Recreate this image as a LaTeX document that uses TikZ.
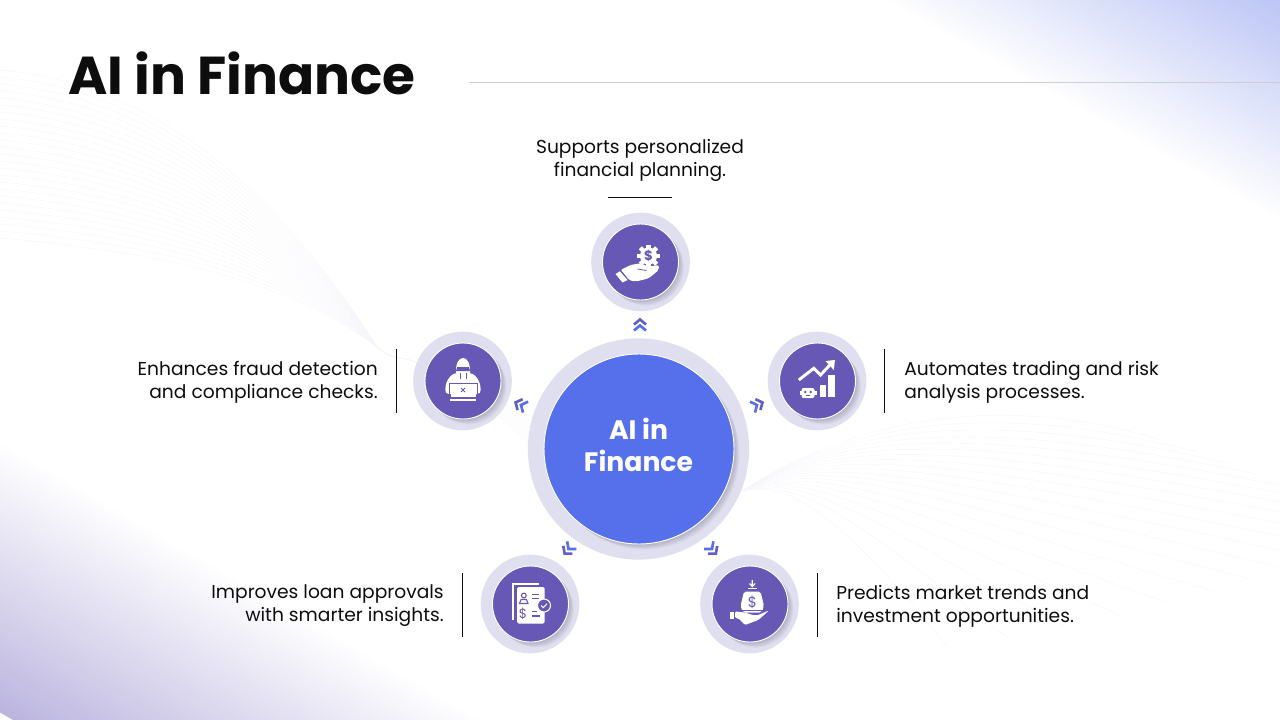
\documentclass[tikz,border=0pt]{standalone}
\usepackage{fontspec}
\setmainfont{Poppins}
\usetikzlibrary{positioning}
\definecolor{inkC}{HTML}{0D0D0D}
\definecolor{ruleC}{HTML}{CFCFCF}
\definecolor{haloC}{HTML}{DFDFF0}
\definecolor{leafC}{HTML}{6658B4}
\definecolor{hubC}{HTML}{5570EA}
\definecolor{skyC}{HTML}{BCC5F5}
\definecolor{lilacC}{HTML}{BBB5DF}
\definecolor{waveC}{HTML}{F5F5FA}

\newcommand{\softshadow}[2]{\foreach \k in {1,...,6}{\fill[black!70!leafC,opacity=.04] (#1)++(\k*.9,\k*.9) circle[radius=#2];}}

\tikzset{
  halo/.style={circle, fill=haloC, inner sep=0pt, minimum size=74pt},
  leaf/.style={circle, fill=leafC, draw=white, line width=.7pt, inner sep=0pt, minimum size=57pt},
  blurb/.style={font=\fontsize{14}{17.25}\selectfont, text=inkC, inner sep=0pt},
  tick/.style={line width=.75pt, inkC},
  tipline/.style={line width=2pt, miter limit=4},
  pics/chevrons/.style={code={
      \draw[tipline, leafC!70!hubC] (-6,-1) -- (0,-6) -- (6,-1);
      \draw[tipline, hubC] (-6,5) -- (0,0) -- (6,5);
  }},
  % hand holding a gear
  pics/handgear/.style={code={
      \fill[white] (8,-6) circle[radius=8.5];
      \foreach \a in {0,45,...,315}{\fill[white, shift={(8,-6)}, rotate=\a] (-2.2,7) rectangle (2.2,11.5);}
      \node (coin) [font=\bfseries\fontsize{10}{10}\selectfont, text=leafC, inner sep=0pt] at (8,-6) {\$};
      \fill[white, rounded corners=1.5] (-20,8) -- (-10,3) -- (0,1.3) -- (8,4.7) -- (18.3,3) -- (18.3,8) -- (8.3,16.3) -- (-5,19.7) -- (-11.7,18) -- (-15,13) -- cycle;
      \fill[white] (-25,12) -- (-20.7,9.3) -- (-13,18) -- (-18,20.5) -- cycle;
      \draw[leafC, line width=.6pt] (-3,7) -- (6,8.5);
  }},
  % hooded figure behind a laptop
  pics/hacker/.style={code={
      \fill[white] (-7,-8) .. controls (-7.5,-18) and (-4,-23) .. (0,-23) .. controls (4,-23) and (7.5,-18) .. (7,-8) -- cycle;
      \fill[white, rounded corners=3] (-18,13) -- (-17,1) -- (-10,-8) -- (10,-8) -- (17,1) -- (18,13) -- cycle;
      \fill[leafC] (-6,-14) -- (6,-14) -- (7,-10) -- (-7,-10) -- cycle;
      \draw[leafC, line width=.5pt] (-3,-8) -- (-3,-2) (3,-8) -- (3,-2);
      \draw[leafC, line width=.6pt] (-14,2) rectangle (14,16.5);
      \fill[white] (-12.5,2.5) rectangle (12.5,15.5);
      \draw[leafC, line width=.6pt] (-2,7) -- (2,11) (2,7) -- (-2,11);
      \fill[white] (-13,17.7) rectangle (13,20);
  }},
  % rising arrow, bars and small robot
  pics/tradebot/.style={code={
      \draw[white, line width=2.2pt] (-18.7,-1) -- (-3.7,-12.7) -- (3,-6) -- (13,-16.7);
      \fill[white] (17.5,-21) -- (8,-20) -- (16.3,-11) -- cycle;
      \fill[white] (2,4) rectangle (8.7,15.7);
      \fill[white] (10.7,-6) rectangle (17.3,15.7);
      \draw[white, line width=1pt] (-12,7) arc[start angle=180, end angle=0, radius=2.4];
      \fill[white, rounded corners=1.5] (-16,7) rectangle (-3,17);
      \fill[white] (-18,9.5) rectangle (-1,14);
      \fill[leafC] (-12.3,11) circle[radius=1.4] (-6.7,11) circle[radius=1.4];
      \fill[leafC] (-11.5,14.4) rectangle (-7.5,15.3);
  }},
  % loan papers with a check badge
  pics/loandoc/.style={code={
      \draw[white, line width=1.3pt] (-17.5,16) -- (-17.5,-20) -- (8,-20);
      \fill[white, rounded corners=1] (-13.3,-17) rectangle (14,19.5);
      \draw[leafC, line width=.8pt] (-6.7,-8.5) circle[radius=2.4];
      \draw[leafC, line width=.8pt] (-11,-0.5) -- (-9.5,-4.5) -- (-4,-4.5) -- (-2.5,-0.5) -- cycle;
      \draw[leafC, line width=.8pt] (1,-9.5) -- (8,-9.5) (1,-5.5) -- (8,-5.5) (1,7.5) -- (6,7.5) (1,12) -- (9,12);
      \node (fee) [font=\fontsize{10}{10}\selectfont, text=leafC, inner sep=0pt] at (-7.5,9.5) {\$};
      \fill[leafC, draw=white, line width=.8pt] (13.5,1.5) circle[radius=6.5];
      \draw[white, line width=.8pt] (10.7,1.5) -- (12.8,3.6) -- (16.4,-.2);
  }},
  % money bag above an open hand
  pics/moneybag/.style={code={
      \draw[white, line width=.9pt] (2.3,-24) -- (2.3,-18.5) (-.5,-20.5) -- (2.3,-17.5) -- (5.1,-20.5);
      \draw[white, line width=1pt] (-2,-15.7) -- (6.5,-15.7);
      \fill[white, rounded corners=1.5] (-6,-12.5) -- (10.5,-12.5) -- (11.5,-8.5) -- (14,2) -- (11.5,8.5) -- (-7,8.5) -- (-9.5,2) -- (-7,-8.5) -- cycle;
      \node (bagdollar) [font=\fontsize{11}{11}\selectfont, text=leafC, inner sep=0pt] at (2.3,-1.5) {\$};
      \fill[leafC] (-20,5.6) rectangle (19,7);
      \fill[white, rounded corners=1] (-15,7.5) -- (-5,8.5) -- (1,10.5) -- (6.7,11.5) -- (19,6.5) -- (8.3,16) -- (-5,21) -- (-11.7,14.3) -- (-15,14) -- cycle;
      \fill[white] (-20,7.5) rectangle (-16,14.5);
  }}
}

\begin{document}
\begin{tikzpicture}[x=.75pt, y=-.75pt]

    \useasboundingbox (0,0) rectangle (1280,720);
    \clip (0,0) rectangle (1280,720);

    % Corner washes
    \begin{scope}
        \clip (880,0) -- (1280,0) -- (1280,222) -- cycle;
        \shade[transform canvas={shift={(880,0)}, rotate=-29}, top color=skyC, bottom color=white] (-50,-194) rectangle (650,0);
    \end{scope}
    \begin{scope}
        \clip (0,440) -- (500,720) -- (0,720) -- cycle;
        \shade[transform canvas={shift={(0,440)}, rotate=-30}, top color=white, bottom color=lilacC] (-200,0) rectangle (700,236);
    \end{scope}

    % Faint wave lines
    \foreach \i in {0,...,24}{
        \draw[waveC, line width=.25pt] (0,70+\i*7) .. controls (170,85+\i*7) and (290,210+\i*3) .. (377,347) .. controls (385,354) and (392,357) .. (400,358);
    }
    \foreach \i in {0,...,7}{
        \draw[waveC, line width=.25pt] (400,358) .. controls (430,362) and (480,395) .. (560,430+\i*6);
    }
    \foreach \i in {0,...,18}{
        \pgfmathsetmacro{\t}{\i/18}
        \pgfmathsetmacro{\ex}{1160-210*\t+270*sin(180*\t)}
        \pgfmathsetmacro{\ey}{440+210*\t}
        \draw[waveC, line width=.25pt] (742,491) .. controls ({850-50*\t},{420+58*\t}) and ({1000-140*\t},{390+150*\t}) .. (\ex,\ey);
    }

    % Title
    \node (title) [anchor=west, font=\bfseries\fontsize{40}{40}\selectfont, text=inkC, inner sep=0pt] at (68,73) {AI in Finance};
    \coordinate (ruleA) at (469,82.5);
    \coordinate (ruleB) at (1280,82.5);
    \draw[ruleC, line width=.75pt] (ruleA) -- (ruleB);

    % Hub
    \node (hubHalo) [halo, minimum size=166pt] at (638.5,449) {};
    \softshadow{639,449}{95}
    \node (hub) [circle, fill=hubC, draw=white, line width=.7pt, inner sep=0pt, minimum size=142.5pt] at (639,449) {};
    \node (hubText) [align=center, text=white, inner sep=0pt, font=\bfseries\fontsize{20}{24}\selectfont] at (638.5,445) {AI in\\Finance};

    % Leaves
    \node (topHalo) [halo] at (640.5,262) {};
    \node (rightHalo) [halo] at (817,381) {};
    \node (leftHalo) [halo] at (462.5,381) {};
    \node (lowLeftHalo) [halo] at (530,604) {};
    \node (lowRightHalo) [halo] at (749.5,604) {};
    \softshadow{640.5,262}{38}
    \softshadow{817.5,381}{38}
    \softshadow{463,381}{38}
    \softshadow{530.5,604}{38}
    \softshadow{750,604}{38}
    \node (topLeaf) [leaf] at (640.5,262) {};
    \node (rightLeaf) [leaf] at (817.5,381) {};
    \node (leftLeaf) [leaf] at (463,381) {};
    \node (lowLeftLeaf) [leaf] at (530.5,604) {};
    \node (lowRightLeaf) [leaf] at (750,604) {};

    \pic at (topLeaf) {handgear};
    \pic at (leftLeaf) {hacker};
    \pic at (rightLeaf) {tradebot};
    \pic at (lowLeftLeaf) {loandoc};
    \pic at (lowRightLeaf) {moneybag};

    % Chevrons
    \pic[rotate=0] at (640,325.5) {chevrons};
    \pic[rotate=65] at (521,405) {chevrons};
    \pic[rotate=-65] at (757,405) {chevrons};
    \pic[rotate=140] at (568.5,549) {chevrons};
    \pic[rotate=-140] at (712,549) {chevrons};

    % Texts
    \node (topText) [blurb, align=center] at (640,160) {Supports personalized\\financial planning.};
    \node (leftText) [blurb, align=right, anchor=east] at (378,382) {Enhances fraud detection\\and compliance checks.};
    \node (rightText) [blurb, align=left, anchor=west] at (904,382) {Automates trading and risk\\analysis processes.};
    \node (lowLeftText) [blurb, align=right, anchor=east] at (444,606) {Improves loan approvals\\with smarter insights.};
    \node (lowRightText) [blurb, align=left, anchor=west] at (836,606) {Predicts market trends and\\investment opportunities.};

    % Short rules
    \draw[tick] (608,197.5) -- (672,197.5);
    \draw[tick] (396.5,349) -- (396.5,413);
    \draw[tick] (884.5,349) -- (884.5,413);
    \draw[tick] (462.5,573) -- (462.5,637);
    \draw[tick] (817.5,573) -- (817.5,637);

\end{tikzpicture}
\end{document}
